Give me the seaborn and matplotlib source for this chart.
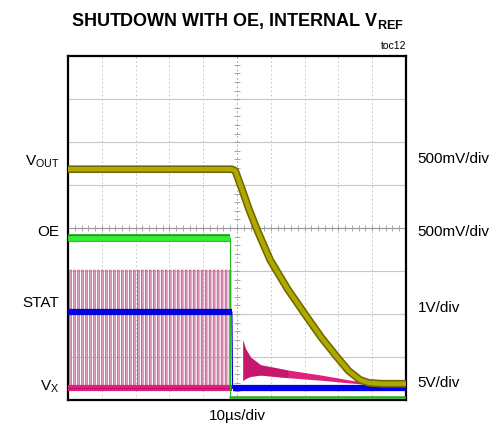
import numpy as np
import pandas as pd
import matplotlib
matplotlib.use("Agg")
import matplotlib.pyplot as plt
import seaborn as sns

# scope screen: 10 horizontal divisions, 8 vertical divisions
N_XDIV = 10
N_YDIV = 8

# V_OUT (olive) - flat, then falls after OE goes low
vout_t = [0.0, 4.85, 4.95, 5.15, 5.35, 5.6, 5.98, 6.5, 7.07, 7.5, 7.96, 8.3, 8.64, 8.9, 9.3, 10.0]
vout_v = [5.37, 5.37, 5.33, 4.9, 4.45, 3.95, 3.26, 2.58, 1.93, 1.45, 1.0, 0.68, 0.47, 0.40, 0.38, 0.38]

# OE (green) - high, then drops to ground
oe_t = [0.0, 4.80, 4.80, 10.0]
oe_v = [3.77, 3.77, 0.08, 0.08]

# STAT (blue) - high, then drops
stat_t = [0.0, 4.85, 4.87, 10.0]
stat_v = [2.05, 2.05, 0.28, 0.28]

# V_X (pink) - switching pulses, then decaying residual
vx_low = 0.28
vx_high = 3.02
vx_pulse_start = 0.05
vx_pulse_period = 0.118
vx_pulse_count = 41
vx_pulse_width = 0.05
vx_tail_t = [4.85, 5.17, 5.17, 5.25, 5.4, 5.7, 6.5, 7.5, 8.3, 8.9, 10.0]
vx_tail_hi = [0.10, 0.10, 1.40, 1.20, 1.00, 0.82, 0.70, 0.58, 0.47, 0.40, 0.36]
vx_tail_lo = [0.10, 0.10, 0.45, 0.50, 0.55, 0.58, 0.52, 0.46, 0.40, 0.36, 0.34]

left_labels = ["V$_{\\mathrm{OUT}}$", "OE", "STAT", "V$_{\\mathrm{X}}$"]
left_label_y = [5.55, 3.9, 2.25, 0.3]
right_labels = ["500mV/div", "500mV/div", "1V/div", "5V/div"]
right_label_y = [5.6, 3.9, 2.15, 0.4]

sns.set_style("white")
plt.rcParams["font.family"] = ["Liberation Sans", "DejaVu Sans"]
plt.rcParams["text.color"] = "black"
plt.rcParams["mathtext.fontset"] = "custom"
plt.rcParams["mathtext.rm"] = "Liberation Sans"
plt.rcParams["mathtext.bf"] = "Liberation Sans:bold"

fig = plt.figure(figsize=(5.0, 4.32), dpi=100)
ax = fig.add_axes([0.136, 0.074, 0.676, 0.796])
ax.set_xlim(0, N_XDIV)
ax.set_ylim(0, N_YDIV)

# graticule
for i in range(1, N_XDIV):
    ax.axvline(i, color="#bbbbbb", lw=0.6, ls=(0, (2, 3)), zorder=0)
for j in range(1, N_YDIV):
    ax.axhline(j, color="#c8c8c8", lw=0.8, zorder=0)
ax.axvline(N_XDIV / 2, color="#aaaaaa", lw=0.6, ls=(0, (2, 3)), zorder=0)
ax.axhline(N_YDIV / 2, color="#999999", lw=0.8, zorder=0)
minor = np.arange(0, N_XDIV + 0.01, 0.2)
ax.plot(minor, np.full_like(minor, N_YDIV / 2), ls="none", marker="|", ms=4, color="#999999", mew=0.6, zorder=0)
minor_y = np.arange(0, N_YDIV + 0.01, 0.2)
ax.plot(np.full_like(minor_y, N_XDIV / 2), minor_y, ls="none", marker="_", ms=4, color="#999999", mew=0.6, zorder=0)

# V_X pulse train
pulse_t, pulse_v = [0.0], [vx_low]
for k in range(vx_pulse_count):
    t0 = vx_pulse_start + k * vx_pulse_period
    pulse_t += [t0, t0, t0 + vx_pulse_width, t0 + vx_pulse_width]
    pulse_v += [vx_low, vx_high, vx_high, vx_low]
pulse_t.append(4.85)
pulse_v.append(vx_low)
ax.fill_between(pulse_t, vx_low, pulse_v, color="#e8b8d0", lw=0, zorder=1)
sns.lineplot(x=pulse_t, y=pulse_v, sort=False, estimator=None, color="#c0508c", lw=0.7,
             alpha=0.85, snap=False, ax=ax, zorder=2)
ax.plot([0.0, 4.85], [vx_low, vx_low], color="#e0207a", lw=4.5, solid_capstyle="butt", zorder=3)
ax.plot([0.0, 4.85], [vx_low, vx_low], color="#c0106a", lw=0.8, zorder=3)

# V_X residual after shutdown
ax.fill_between(vx_tail_t, vx_tail_lo, vx_tail_hi, color="#e0207a", lw=0, zorder=2)
ax.fill_between(vx_tail_t[2:7], vx_tail_lo[2:7], vx_tail_hi[2:7], color="#b01060", lw=0, alpha=0.5, zorder=2)

# OE
oe = pd.DataFrame({"t": oe_t, "v": oe_v})
sns.lineplot(data=oe, x="t", y="v", sort=False, estimator=None, color="#22bb22", lw=0.8, ax=ax, zorder=3)
ax.plot([0.0, 4.80], [3.77, 3.77], color="#1a9a1a", lw=5.5, solid_capstyle="butt", zorder=3)
ax.plot([0.0, 4.80], [3.77, 3.77], color="#33ee33", lw=3.5, solid_capstyle="butt", zorder=3)
ax.plot([4.80, 10.0], [0.08, 0.08], color="#22aa22", lw=1.8, zorder=3)

# STAT
stat = pd.DataFrame({"t": stat_t, "v": stat_v})
sns.lineplot(data=stat, x="t", y="v", sort=False, estimator=None, color="#0000dd", lw=0.8, ax=ax, zorder=4)
ax.plot([0.0, 4.85], [2.05, 2.05], color="#0000dd", lw=4.5, solid_capstyle="butt", zorder=4)
ax.plot([4.87, 10.0], [0.28, 0.28], color="#0000ee", lw=4.5, solid_capstyle="butt", zorder=4)

# V_OUT
vout = pd.DataFrame({"t": vout_t, "v": vout_v})
sns.lineplot(data=vout, x="t", y="v", sort=False, estimator=None, color="#6e6a00", lw=5.5, ax=ax, zorder=5)
sns.lineplot(data=vout, x="t", y="v", sort=False, estimator=None, color="#b0a800", lw=3.2, ax=ax, zorder=5)

ax.set_xticks([])
ax.set_yticks([])
ax.set_xlabel("")
ax.set_ylabel("")
for s in ax.spines.values():
    s.set_color("black")
    s.set_linewidth(1.6)

for lab, y in zip(left_labels, left_label_y):
    ax.text(-0.25, y, lab, ha="right", va="center", fontsize=11, color="black", clip_on=False)
for lab, y in zip(right_labels, right_label_y):
    ax.text(10.35, y, lab, ha="left", va="center", fontsize=11, color="black", clip_on=False)

fig.text(0.475, 0.951, "SHUTDOWN WITH OE, INTERNAL V$_{\\mathbf{REF}}$", ha="center", va="center",
         fontsize=13, fontweight="bold", color="black")
fig.text(0.812, 0.893, "toc12", ha="right", va="center", fontsize=7.5, color="black")
fig.text(0.475, 0.038, "10µs/div", ha="center", va="center", fontsize=11, color="black")

fig.savefig("out.png", dpi=100)
